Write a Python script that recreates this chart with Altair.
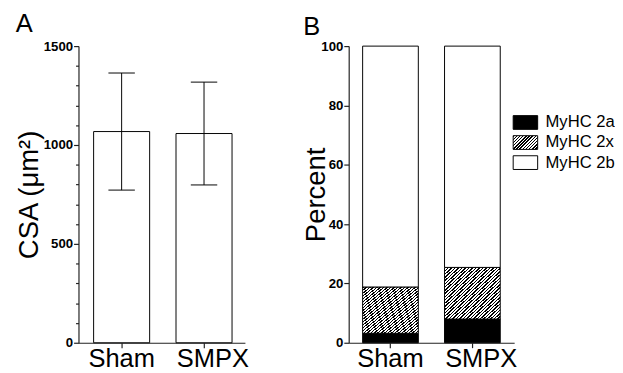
import altair as alt
import pandas as pd

# ---------------- data ----------------
groups = ["Sham", "SMPX"]
csa_mean = [1068, 1058]
csa_sd = [296, 260]

fiber_types = ["MyHC 2a", "MyHC 2x", "MyHC 2b"]
sham_pct = [3.2, 15.6, 81.2]
smpx_pct = [8.0, 17.4, 74.6]

csa_tick_values = list(range(0, 1501, 100))
pct_tick_values = [0, 20, 40, 60, 80, 100]

FONT = "Liberation Sans"


def hatch_fill(x2=1.0, y2=1.0, n=22, frac=0.45):
    stops = []
    for i in range(n):
        a = i / n
        b = (i + frac) / n
        c = (i + 1) / n
        stops += [
            {"offset": a, "color": "#000000"},
            {"offset": b, "color": "#000000"},
            {"offset": b, "color": "#ffffff"},
            {"offset": c, "color": "#ffffff"},
        ]
    return {"gradient": "linear", "x1": 0, "y1": 0, "x2": x2, "y2": y2, "stops": stops}


# swatch hatch at 45 degrees
SW_W, SW_H = 25, 14
r = SW_H / SW_W
a = (1 + r) / (1 + r * r)
swatch_hatch = hatch_fill(x2=a, y2=a * r, n=12)
bar_hatch = hatch_fill(n=32)


def x_enc(align=0.5):
    return alt.X(
        "group:N", sort=groups, title=None,
        scale=alt.Scale(paddingInner=0.32, paddingOuter=0.17, align=align),
        axis=alt.Axis(
            labelAngle=0, labelFont=FONT, labelFontSize=26, labelColor="black",
            labelPadding=-2, tickSize=5, tickColor="#222222", tickWidth=1.2,
            domainColor="#222222", domainWidth=1.2, bandPosition=0.5,
            labelOffset=alt.condition("datum.value === 'SMPX'", alt.value(9), alt.value(0)),
        ),
    )


axis_common = dict(
    labelFont=FONT, labelFontSize=13.5, labelFontWeight="bold", labelColor="black",
    labelPadding=1, tickColor="#222222", tickWidth=1.2, domainColor="#222222", domainWidth=1.2,
    titleFont=FONT, titleFontSize=28, titleFontWeight="normal", titleColor="black",
)

# ---------------- panel A ----------------
dfA = pd.DataFrame({"group": groups, "mean": csa_mean, "sd": csa_sd})
yA_scale = alt.Scale(domain=[0, 1500], nice=False, zero=True)
yA_axis = alt.Axis(
    title="CSA (μm²)", values=csa_tick_values, format="d",
    labelExpr="datum.value % 500 === 0 ? datum.label : ''",
    tickSize=alt.condition("datum.value % 500 === 0", alt.value(5), alt.value(3)),
    titlePadding=0, **axis_common,
)

baseA = alt.Chart(dfA).transform_calculate(
    lo="datum.mean - datum.sd", hi="datum.mean + datum.sd"
)
xA = x_enc(align=0.54)
barsA = baseA.mark_bar(fill="white", stroke="black", strokeWidth=1).encode(
    x=xA, y=alt.Y("mean:Q", scale=yA_scale, axis=yA_axis)
)
errA = baseA.mark_rule(color="black", strokeWidth=1).encode(
    x=xA, y=alt.Y("lo:Q", scale=yA_scale, axis=yA_axis), y2="hi:Q"
)
capLo = baseA.mark_tick(color="black", size=27, thickness=1, opacity=1).encode(
    x=xA, y=alt.Y("lo:Q", scale=yA_scale, axis=yA_axis)
)
capHi = baseA.mark_tick(color="black", size=27, thickness=1, opacity=1).encode(
    x=xA, y=alt.Y("hi:Q", scale=yA_scale, axis=yA_axis)
)

panelA = alt.layer(barsA, errA, capLo, capHi).properties(
    width=170, height=303,
    title=alt.TitleParams("A", anchor="start", frame="bounds", font=FONT, fontSize=26,
                          fontWeight="normal", color="black", offset=2),
)

# ---------------- panel B ----------------
rows = []
for g, vals in zip(groups, [sham_pct, smpx_pct]):
    for k, (t, v) in enumerate(zip(fiber_types, vals)):
        rows.append({"group": g, "type": t, "order": k, "pct": v})
dfB = pd.DataFrame(rows)

yB_scale = alt.Scale(domain=[0, 100], nice=False, zero=True)
yB_axis = alt.Axis(title="Percent", values=pct_tick_values, format="d", tickSize=5,
                   titlePadding=-10, **axis_common)

baseB = alt.Chart(dfB).transform_stack(
    stack="pct", groupby=["group"], as_=["y0", "y1"],
    sort=[alt.SortField("order", order="ascending")],
)
bar_fills = ["black", bar_hatch, "white"]
sw_fills = ["black", swatch_hatch, "white"]

xB = x_enc()
layersB = []
for t, f in zip(fiber_types, bar_fills):
    layersB.append(
        baseB.transform_filter(alt.datum.type == t)
        .mark_bar(fill=f, stroke="black", strokeWidth=1)
        .encode(x=xB, y=alt.Y("y0:Q", scale=yB_scale, axis=yB_axis), y2="y1:Q")
    )

leg_top = [71, 91.5, 112]
for t, f, yy in zip(fiber_types, sw_fills, leg_top):
    dleg = pd.DataFrame({"type": [t]})
    layersB.append(
        alt.Chart(dleg).mark_rect(fill=f, stroke="black", strokeWidth=1).encode(
            x=alt.value(168), x2=alt.value(168 + SW_W), y=alt.value(yy), y2=alt.value(yy + SW_H)
        )
    )
    layersB.append(
        alt.Chart(dleg).mark_text(align="left", baseline="middle", font=FONT, fontSize=17,
                                  color="black").encode(
            x=alt.value(201), y=alt.value(yy + SW_H / 2), text="type:N"
        )
    )

panelB = alt.layer(*layersB).properties(
    width=169, height=303,
    title=alt.TitleParams("B", anchor="start", frame="bounds", font=FONT, fontSize=26,
                          fontWeight="normal", color="black", offset=2, dy=3),
)

chart = (
    alt.hconcat(panelA, panelB, spacing=55)
    .properties(padding={"left": 7, "top": 0, "right": 0, "bottom": 0}, background="white")
    .configure_view(stroke=None)
    .configure_axis(grid=False)
)

chart.save("out.html", embed_options={"renderer": "svg", "actions": False})
